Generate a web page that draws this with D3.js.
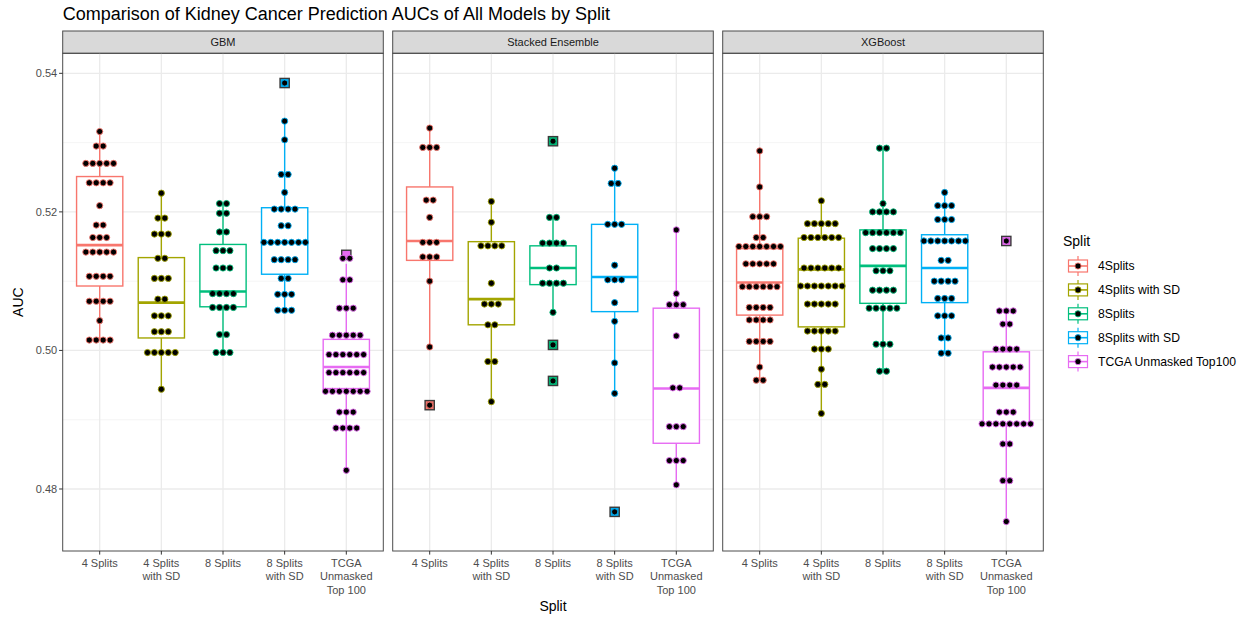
<!DOCTYPE html>
<html>
<head>
<meta charset="utf-8">
<script src="https://cdn.jsdelivr.net/npm/d3@7"></script>
<style>
  html, body { margin: 0; padding: 0; background: #ffffff; }
  svg { display: block; font-family: "Liberation Sans", Arial, Helvetica, sans-serif; }
</style>
</head>
<body>
<svg id="chart" width="1247" height="617"></svg>
<script>
// ---- data -------------------------------------------------------------
const models = ["GBM", "Stacked Ensemble", "XGBoost"];
const splits = ["4Splits", "4Splits with SD", "8Splits", "8Splits with SD", "TCGA Unmasked Top100"];
const splitTickLabels = [["4 Splits"], ["4 Splits", "with SD"], ["8 Splits"], ["8 Splits", "with SD"], ["TCGA", "Unmasked", "Top 100"]];
const yTicks = [0.48, 0.50, 0.52, 0.54];
const yMinorTicks = [0.49, 0.51, 0.53];
const splitColors = ["#F8766D", "#A3A500", "#00BF7D", "#00B0F6", "#E76BF3"];
const binwidth = 0.001;

// dot stacks per split: [AUC bin, number of runs]
const gbmDots = [
  [[0.5316,1],[0.5295,2],[0.5270,5],[0.5242,4],[0.5209,1],[0.5181,2],[0.5163,3],[0.5142,5],[0.5107,4],[0.5071,4],[0.5043,1],[0.5015,4]],
  [[0.5227,1],[0.5191,2],[0.5168,3],[0.5133,2],[0.5104,3],[0.5074,2],[0.5050,3],[0.5027,3],[0.4997,5],[0.4944,1]],
  [[0.5212,2],[0.5198,2],[0.5171,2],[0.5144,3],[0.5119,3],[0.5082,4],[0.5062,4],[0.5023,2],[0.4997,3]],
  [[0.5386,1],[0.5331,1],[0.5304,1],[0.5254,2],[0.5228,1],[0.5204,4],[0.5180,2],[0.5156,7],[0.5131,4],[0.5104,2],[0.5081,3],[0.5058,3]],
  [[0.5133,2],[0.5102,2],[0.5061,3],[0.5022,5],[0.4994,6],[0.4968,6],[0.4941,7],[0.4911,3],[0.4888,4],[0.4827,1]]
];
const ensembleDots = [
  [[0.5321,1],[0.5293,3],[0.5217,2],[0.5192,1],[0.5156,3],[0.5135,3],[0.5100,1],[0.5005,1],[0.4921,1]],
  [[0.5215,1],[0.5185,1],[0.5151,4],[0.5097,1],[0.5067,3],[0.5037,2],[0.4984,2],[0.4926,1]],
  [[0.5302,1],[0.5192,2],[0.5155,4],[0.5119,2],[0.5097,4],[0.5055,1],[0.5008,1],[0.4956,1]],
  [[0.5263,1],[0.5241,2],[0.5182,3],[0.5123,1],[0.5102,3],[0.5069,1],[0.5042,1],[0.4982,1],[0.4938,1],[0.4767,1]],
  [[0.5174,1],[0.5082,1],[0.5066,3],[0.5021,1],[0.4946,2],[0.4890,3],[0.4841,3],[0.4806,1]]
];
const xgbDots = [
  [[0.5288,1],[0.5236,1],[0.5193,3],[0.5163,2],[0.5150,7],[0.5125,5],[0.5092,6],[0.5062,4],[0.5044,4],[0.5013,4],[0.4976,1],[0.4957,2]],
  [[0.5216,1],[0.5183,5],[0.5163,6],[0.5119,6],[0.5093,7],[0.5067,5],[0.5028,5],[0.5002,3],[0.4973,1],[0.4951,2],[0.4909,1]],
  [[0.5292,2],[0.5212,1],[0.5200,4],[0.5170,6],[0.5147,4],[0.5115,3],[0.5087,4],[0.5061,5],[0.5009,3],[0.4970,2]],
  [[0.5228,1],[0.5209,3],[0.5189,3],[0.5158,7],[0.5130,2],[0.5100,4],[0.5075,3],[0.5050,3],[0.5018,2],[0.4996,2]],
  [[0.5158,1],[0.5057,3],[0.5038,2],[0.5002,4],[0.4976,5],[0.4950,4],[0.4911,3],[0.4894,8],[0.4865,2],[0.4812,2],[0.4753,1]]
];

// box summaries per split: [lower whisker, Q1, median, Q3, upper whisker]
const gbmBoxes = [
  [0.5015, 0.5093, 0.5152, 0.5251, 0.5316],
  [0.4944, 0.5018, 0.5069, 0.5134, 0.5227],
  [0.4997, 0.5063, 0.5085, 0.5153, 0.5212],
  [0.5058, 0.5110, 0.5156, 0.5206, 0.5331],
  [0.4827, 0.4945, 0.4976, 0.5016, 0.5125]
];
const ensembleBoxes = [
  [0.5005, 0.5130, 0.5158, 0.5236, 0.5321],
  [0.4926, 0.5037, 0.5074, 0.5157, 0.5215],
  [0.5055, 0.5095, 0.5119, 0.5151, 0.5192],
  [0.4938, 0.5056, 0.5106, 0.5182, 0.5263],
  [0.4806, 0.4866, 0.4945, 0.5061, 0.5174]
];
const xgbBoxes = [
  [0.4957, 0.5051, 0.5098, 0.5147, 0.5288],
  [0.4909, 0.5034, 0.5117, 0.5162, 0.5216],
  [0.4970, 0.5068, 0.5122, 0.5174, 0.5292],
  [0.4996, 0.5069, 0.5119, 0.5167, 0.5228],
  [0.4753, 0.4894, 0.4946, 0.4998, 0.5057]
];

// outlying runs per split
const gbmOutliers = [[], [], [], [0.5386], [0.5138]];
const ensembleOutliers = [[0.4921], [], [0.5302, 0.5008, 0.4956], [0.4767], []];
const xgbOutliers = [[], [], [], [], [0.5158]];

const facets = [
  { name: models[0], dots: gbmDots, boxes: gbmBoxes, outliers: gbmOutliers },
  { name: models[1], dots: ensembleDots, boxes: ensembleBoxes, outliers: ensembleOutliers },
  { name: models[2], dots: xgbDots, boxes: xgbBoxes, outliers: xgbOutliers }
];

// ---- layout -----------------------------------------------------------
const svg = d3.select("#chart");
const panelLeft = 62.7, panelW = 320.6, panelGap = 9.4;
const stripTop = 31, stripH = 22.3;
const plotTop = stripTop + stripH, plotBottom = 551;

const y = d3.scaleLinear().domain([0.47105, 0.54289]).range([plotBottom, plotTop]);
const color = d3.scaleOrdinal().domain(splits).range(splitColors);
const dotDiam = y(0) - y(binwidth);
const dotR = dotDiam / 2 - 0.35;
const boxFrac = 0.75;

svg.append("rect").attr("width", 1247).attr("height", 617).attr("fill", "#ffffff");

// title
svg.append("text")
  .attr("x", panelLeft).attr("y", 19.5)
  .attr("font-size", 18).attr("fill", "#000")
  .text("Comparison of Kidney Cancer Prediction AUCs of All Models by Split");

facets.forEach((f, fi) => {
  const x0 = panelLeft + fi * (panelW + panelGap);
  const x = d3.scalePoint().domain(splits).range([x0, x0 + panelW]).padding(0.6);
  const step = x.step();
  const g = svg.append("g");

  // strip
  g.append("rect")
    .attr("x", x0).attr("y", stripTop).attr("width", panelW).attr("height", stripH)
    .attr("fill", "#d9d9d9").attr("stroke", "#4d4d4d").attr("stroke-width", 1);
  g.append("text")
    .attr("x", x0 + panelW / 2).attr("y", stripTop + stripH / 2 + 4)
    .attr("text-anchor", "middle").attr("font-size", 11).attr("fill", "#1a1a1a")
    .text(f.name);

  // grid
  const grid = g.append("g");
  grid.selectAll("line.minor").data(yMinorTicks).join("line")
    .attr("x1", x0).attr("x2", x0 + panelW)
    .attr("y1", d => y(d)).attr("y2", d => y(d))
    .attr("stroke", "#f2f2f2").attr("stroke-width", 0.8);
  grid.selectAll("line.major").data(yTicks).join("line")
    .attr("x1", x0).attr("x2", x0 + panelW)
    .attr("y1", d => y(d)).attr("y2", d => y(d))
    .attr("stroke", "#ebebeb").attr("stroke-width", 1.3);
  grid.selectAll("line.vert").data(splits).join("line")
    .attr("x1", d => x(d)).attr("x2", d => x(d))
    .attr("y1", plotTop).attr("y2", plotBottom)
    .attr("stroke", "#ebebeb").attr("stroke-width", 1.3);

  // boxplots
  splits.forEach((s, si) => {
    const [lo, q1, med, q3, hi] = f.boxes[si];
    const cx = x(s), c = color(s), hw = step * boxFrac / 2;
    const bg = g.append("g").attr("stroke", c).attr("fill", "none");
    bg.append("line").attr("x1", cx).attr("x2", cx).attr("y1", y(hi)).attr("y2", y(q3)).attr("stroke-width", 1.4);
    bg.append("line").attr("x1", cx).attr("x2", cx).attr("y1", y(q1)).attr("y2", y(lo)).attr("stroke-width", 1.4);
    bg.append("rect").attr("x", cx - hw).attr("y", y(q3)).attr("width", 2 * hw).attr("height", y(q1) - y(q3))
      .attr("fill", "#ffffff").attr("stroke-width", 1.4);
    bg.append("line").attr("x1", cx - hw).attr("x2", cx + hw).attr("y1", y(med)).attr("y2", y(med)).attr("stroke-width", 2.6);

    // outliers
    g.selectAll(null).data(f.outliers[si]).join("rect")
      .attr("x", cx - 4.6).attr("y", d => y(d) - 4.6).attr("width", 9.2).attr("height", 9.2)
      .attr("fill", c).attr("stroke", "#3a3a3a").attr("stroke-width", 1.4);
  });

  // dot stacks, centred on each split
  splits.forEach((s, si) => {
    const cx = x(s), c = color(s);
    const pts = [];
    f.dots[si].forEach(([v, n]) => {
      for (let i = 0; i < n; i++) pts.push({ v, off: (i - (n - 1) / 2) * dotDiam });
    });
    g.selectAll(null).data(pts).join("circle")
      .attr("cx", d => cx + d.off).attr("cy", d => y(d.v))
      .attr("r", dotR)
      .attr("fill", "#000").attr("stroke", c).attr("stroke-width", 0.9);
  });

  // panel border
  g.append("rect")
    .attr("x", x0).attr("y", plotTop).attr("width", panelW).attr("height", plotBottom - plotTop)
    .attr("fill", "none").attr("stroke", "#4d4d4d").attr("stroke-width", 1);

  // x axis
  const xa = g.append("g");
  splits.forEach((s, si) => {
    xa.append("line").attr("x1", x(s)).attr("x2", x(s)).attr("y1", plotBottom).attr("y2", plotBottom + 3.6)
      .attr("stroke", "#333").attr("stroke-width", 1);
    const t = xa.append("text").attr("text-anchor", "middle").attr("font-size", 11).attr("fill", "#4d4d4d");
    splitTickLabels[si].forEach((line, li) => {
      t.append("tspan").attr("x", x(s)).attr("y", plotBottom + 16 + li * 13.4).text(line);
    });
  });

  // y axis only on the first panel
  if (fi === 0) {
    const ya = g.append("g");
    ya.selectAll("line").data(yTicks).join("line")
      .attr("x1", x0 - 3.6).attr("x2", x0).attr("y1", d => y(d)).attr("y2", d => y(d))
      .attr("stroke", "#333").attr("stroke-width", 1);
    ya.selectAll("text").data(yTicks).join("text")
      .attr("x", x0 - 5.5).attr("y", d => y(d) + 4)
      .attr("text-anchor", "end").attr("font-size", 11).attr("fill", "#4d4d4d")
      .text(d => d3.format(".2f")(d));
  }
});

// axis titles
svg.append("text")
  .attr("transform", `translate(23,${(plotTop + plotBottom) / 2}) rotate(-90)`)
  .attr("text-anchor", "middle").attr("font-size", 14).attr("fill", "#000")
  .text("AUC");
svg.append("text")
  .attr("x", panelLeft + (3 * panelW + 2 * panelGap) / 2).attr("y", 611)
  .attr("text-anchor", "middle").attr("font-size", 14).attr("fill", "#000")
  .text("Split");

// legend
const lg = svg.append("g");
lg.append("text").attr("x", 1063).attr("y", 246).attr("font-size", 14).attr("fill", "#000").text("Split");
splits.forEach((s, i) => {
  const cy = 266 + i * 23.9, c = color(s), kx = 1078;
  const k = lg.append("g").attr("stroke", c).attr("fill", "none");
  k.append("line").attr("x1", kx).attr("x2", kx).attr("y1", cy - 10).attr("y2", cy - 6).attr("stroke-width", 1.2);
  k.append("line").attr("x1", kx).attr("x2", kx).attr("y1", cy + 6).attr("y2", cy + 10).attr("stroke-width", 1.2);
  k.append("rect").attr("x", kx - 9.5).attr("y", cy - 6).attr("width", 19).attr("height", 12)
    .attr("fill", "#fff").attr("stroke-width", 1.2);
  k.append("line").attr("x1", kx - 9.5).attr("x2", kx + 9.5).attr("y1", cy).attr("y2", cy).attr("stroke-width", 1.6);
  lg.append("circle").attr("cx", kx).attr("cy", cy).attr("r", dotR)
    .attr("fill", "#000").attr("stroke", c).attr("stroke-width", 0.9);
  lg.append("text").attr("x", 1098).attr("y", cy + 4).attr("font-size", 12.2).attr("fill", "#000").text(s);
});
</script>
</body>
</html>
